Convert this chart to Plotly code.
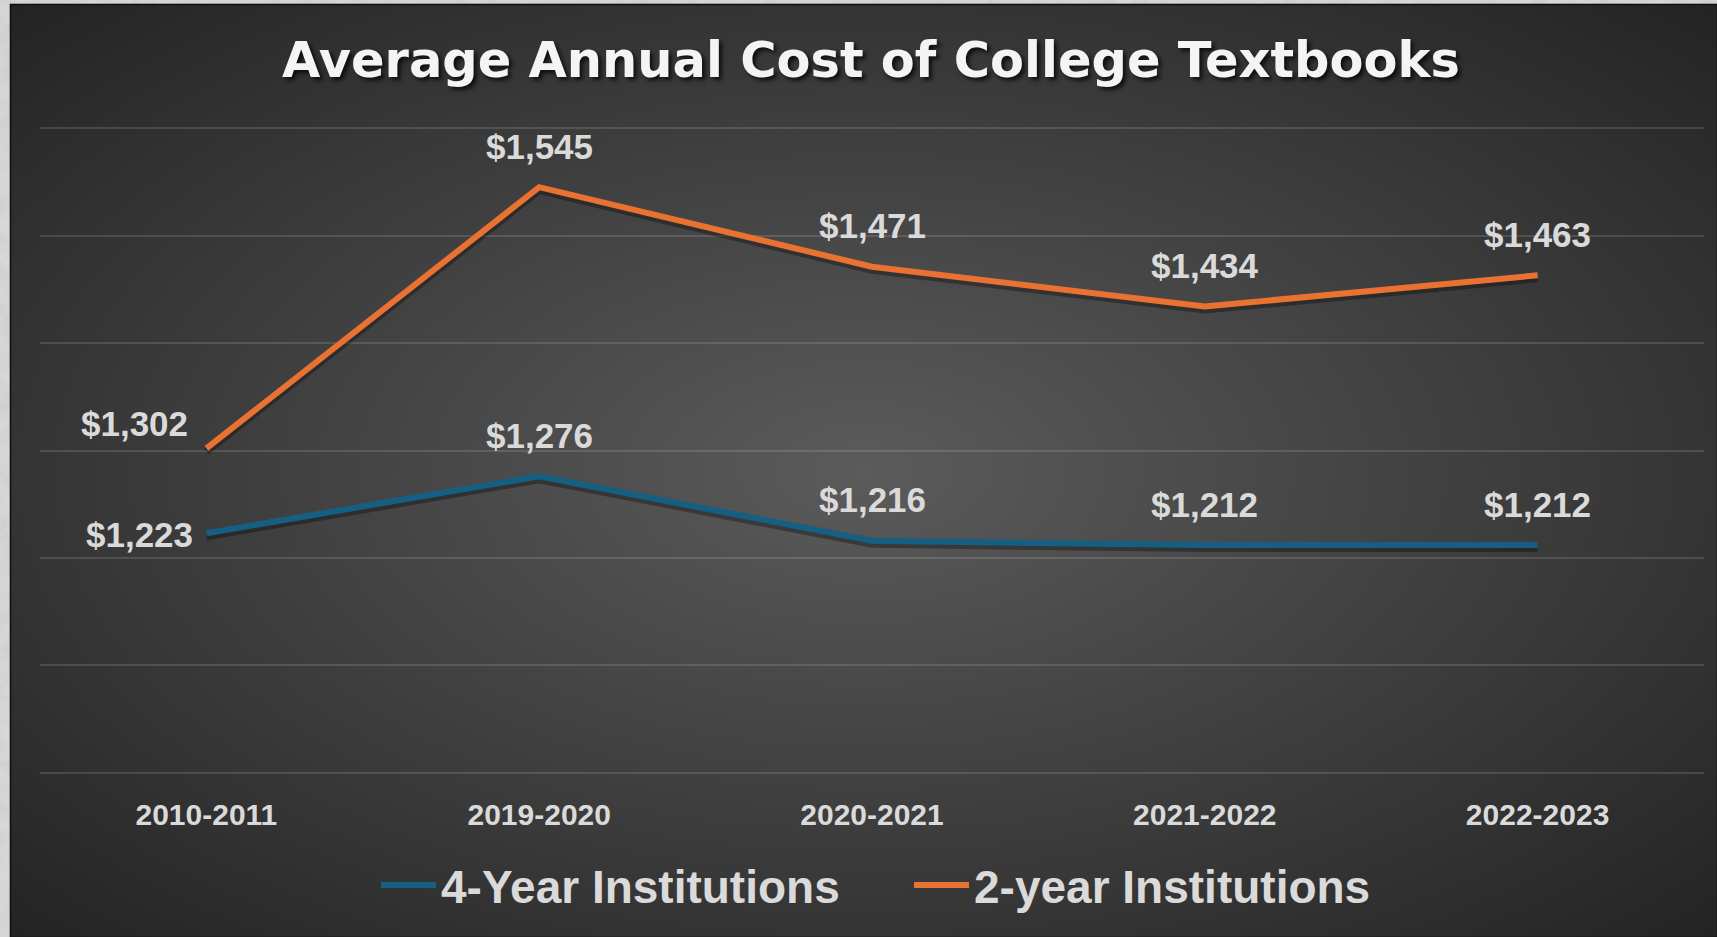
import base64
import plotly.graph_objects as go

# Average annual textbook spending by institution type
years = ["2010-2011", "2019-2020", "2020-2021", "2021-2022", "2022-2023"]
four_year = [1223, 1276, 1216, 1212, 1212]
two_year = [1302, 1545, 1471, 1434, 1463]
y_ticks = [1000, 1100, 1200, 1300, 1400, 1500, 1600]

W, H = 1717, 937
ML, MR, MT, MB = 40, 13, 127, 163
PW, PH = W - ML - MR, H - MT - MB
Y_MIN, Y_MAX = y_ticks[0], y_ticks[-1]
Y_PAD = 1.0  # keeps the outermost gridlines inside the plotting range

BLUE = "#156082"
ORANGE = "#E97132"
LABEL = "#dadada"

# Background: stone texture outside a dark radial-gradient panel
svg = f"""<svg xmlns="http://www.w3.org/2000/svg" width="{W}" height="{H}" viewBox="0 0 {W} {H}" preserveAspectRatio="none">
<defs>
<radialGradient id="g" cx="0.5" cy="0.5" r="0.7">
<stop offset="0" stop-color="#5b5b5b"/>
<stop offset="1" stop-color="#242424"/>
</radialGradient>
<filter id="n" x="0" y="0" width="1" height="1">
<feTurbulence type="fractalNoise" baseFrequency="0.06" numOctaves="4" seed="7"/>
<feColorMatrix type="matrix" values="0 0 0 0 0.45 0 0 0 0 0.45 0 0 0 0 0.45 0.9 0 0 0 -0.25"/>
</filter>
</defs>
<rect width="{W}" height="{H}" fill="#d8d8d8"/>
<rect width="{W}" height="{H}" filter="url(#n)" opacity="0.5"/>
<rect x="10.5" y="4.5" width="{W - 10}" height="{H - 4}" fill="url(#g)" stroke="#111111" stroke-width="1.6"/>
</svg>"""
bg_uri = "data:image/svg+xml;base64," + base64.b64encode(svg.encode()).decode()

fig = go.Figure()

# soft drop shadow under each line, offset a few pixels downward
shadow_dy = 3 * (Y_MAX - Y_MIN) / PH
for vals in (four_year, two_year):
    fig.add_trace(go.Scatter(
        x=years, y=[v - shadow_dy for v in vals], mode="lines",
        line=dict(color="rgba(0,0,0,0.32)", width=8),
        hoverinfo="skip", showlegend=False,
    ))

fig.add_trace(go.Scatter(
    x=years, y=four_year, mode="lines", name="4-Year Institutions",
    line=dict(color=BLUE, width=6),
))
fig.add_trace(go.Scatter(
    x=years, y=two_year, mode="lines", name="2-year Institutions",
    line=dict(color=ORANGE, width=6),
))

label_font = dict(family="Liberation Sans, Arial, sans-serif", size=35, color=LABEL, weight="bold")

def add_labels(vals, first_shift):
    for i, (cat, v) in enumerate(zip(years, vals)):
        xs, ys = first_shift if i == 0 else (0, 41)
        fig.add_annotation(
            x=cat, y=v, xref="x", yref="y", text=f"${v:,}",
            showarrow=False, xshift=xs, yshift=ys,
            xanchor="center", yanchor="middle", font=label_font,
        )

add_labels(two_year, (-72, 25))
add_labels(four_year, (-67, -1))

fig.update_layout(
    width=W, height=H,
    margin=dict(l=ML, r=MR, t=MT, b=MB, pad=0),
    paper_bgcolor="#d8d8d8",
    plot_bgcolor="rgba(0,0,0,0)",
    title=dict(
        text="Average Annual Cost of College Textbooks",
        x=871 / W, xanchor="center", y=1 - 60 / H, yanchor="middle",
        font=dict(family="DejaVu Sans, sans-serif", size=49.5, color="#f4f4f4",
                  weight="bold", shadow="3px 3px 4px rgba(0,0,0,0.75)"),
    ),
    xaxis=dict(
        type="category", range=[-0.5, len(years) - 0.5],
        showgrid=False, showline=False, zeroline=False, ticks="",
        ticklabelstandoff=20,
        tickfont=dict(family="Liberation Sans, Arial, sans-serif", size=30,
                      color=LABEL, weight="bold"),
    ),
    yaxis=dict(
        range=[Y_MIN - Y_PAD, Y_MAX + Y_PAD], tickvals=y_ticks, showticklabels=False,
        showgrid=True, gridcolor="rgba(255,255,255,0.13)", gridwidth=1.5,
        zeroline=False, showline=False, ticks="",
    ),
    legend=dict(
        orientation="h", x=(376 - ML) / PW, xanchor="left",
        y=-111 / PH, yanchor="middle",
        font=dict(family="Liberation Sans, Arial, sans-serif", size=46,
                  color=LABEL, weight="bold"),
        itemwidth=55, entrywidth=463, entrywidthmode="pixels",
        bgcolor="rgba(0,0,0,0)",
    ),
    images=[dict(
        source=bg_uri, xref="paper", yref="paper",
        x=-ML / PW, y=1 + MT / PH, sizex=W / PW, sizey=H / PH,
        xanchor="left", yanchor="top", sizing="stretch", layer="below",
    )],
    hovermode=False,
)

fig.write_html("out.html")
